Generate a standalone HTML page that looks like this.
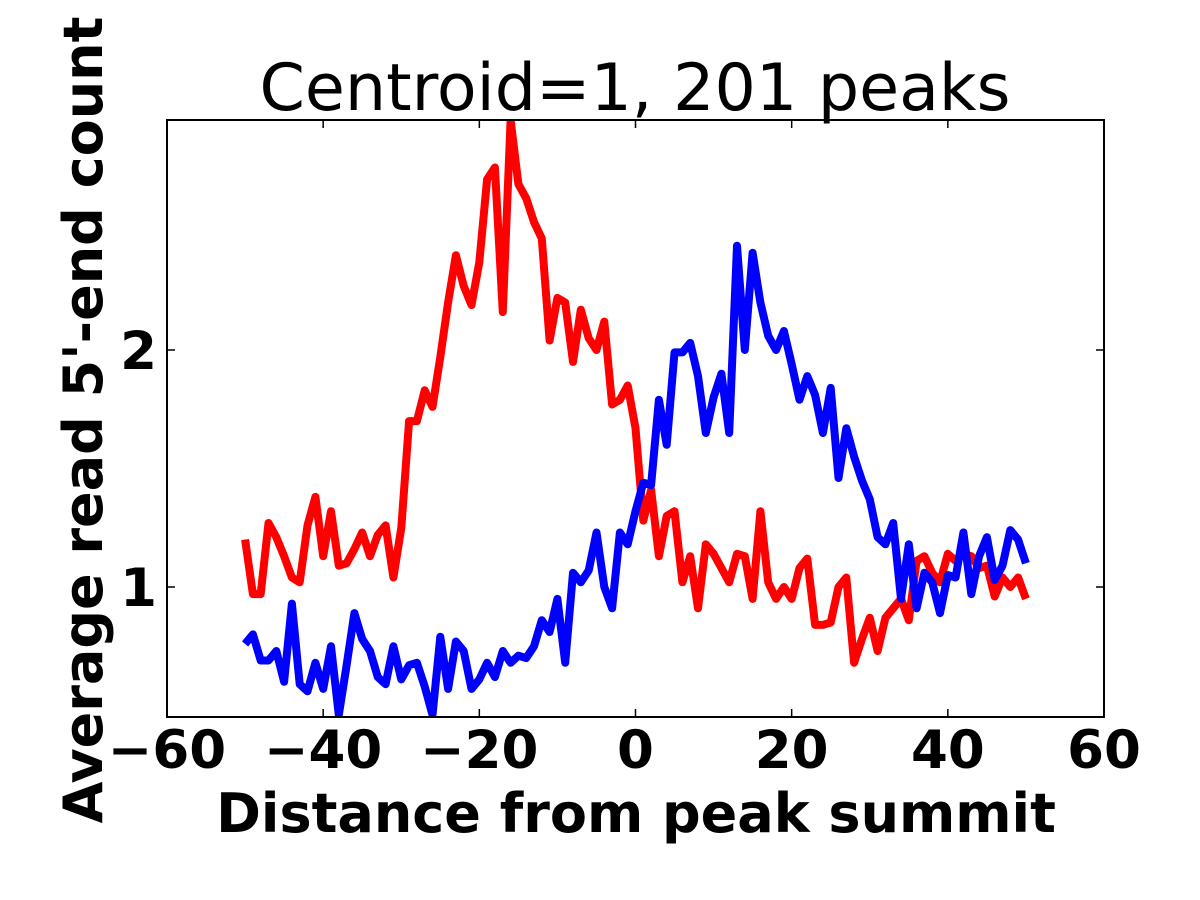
<!DOCTYPE html>
<html><head><meta charset="utf-8"><style>
html,body{margin:0;padding:0;background:#fff;}
svg{display:block;font-family:"DejaVu Sans","Liberation Sans",sans-serif;}
</style></head><body>
<svg id="chart" width="1200" height="900" viewBox="0 0 1200 900">
<defs><clipPath id="plotclip"><rect x="167" y="120" width="937" height="597"/></clipPath></defs>
<text x="635" y="110" font-size="65" text-anchor="middle">Centroid=1, 201 peaks</text>
<g id="series" clip-path="url(#plotclip)"></g>
<rect x="167" y="120" width="937" height="597" fill="none" stroke="#000" stroke-width="2"/>
<g id="ticks"></g>
<text x="636" y="832" font-size="54" font-weight="bold" text-anchor="middle">Distance from peak summit</text>
<text transform="translate(102,420) rotate(-90)" font-size="54" font-weight="bold" text-anchor="middle">Average read 5'-end count</text>
</svg>
<script>
const xValues = [];
for (let i = -50; i <= 50; i++) xValues.push(i);
const redValues = [1.20,0.97,0.97,1.27,1.21,1.13,1.04,1.02,1.26,1.38,1.13,1.32,1.09,1.10,1.16,1.23,1.13,1.22,1.26,1.04,1.25,1.70,1.70,1.83,1.76,1.97,2.20,2.40,2.27,2.19,2.37,2.72,2.77,2.16,2.97,2.70,2.64,2.54,2.47,2.04,2.22,2.20,1.95,2.17,2.05,2.00,2.12,1.77,1.79,1.85,1.67,1.28,1.41,1.13,1.30,1.32,1.02,1.13,0.91,1.18,1.14,1.08,1.02,1.14,1.13,0.95,1.32,1.02,0.95,1.00,0.95,1.08,1.12,0.84,0.84,0.85,1.00,1.04,0.68,0.78,0.87,0.73,0.87,0.91,0.95,0.86,1.11,1.13,1.06,1.02,1.14,1.11,1.14,1.13,1.08,1.09,0.96,1.04,1.00,1.04,0.95];
const blueValues = [0.76,0.80,0.69,0.69,0.73,0.60,0.93,0.59,0.56,0.68,0.57,0.75,0.46,0.67,0.89,0.78,0.73,0.62,0.59,0.75,0.61,0.67,0.68,0.58,0.46,0.79,0.57,0.77,0.73,0.57,0.61,0.68,0.62,0.73,0.68,0.71,0.70,0.75,0.86,0.81,0.95,0.68,1.06,1.02,1.07,1.23,1.00,0.91,1.23,1.18,1.32,1.44,1.43,1.79,1.60,1.99,1.99,2.03,1.89,1.65,1.80,1.90,1.65,2.44,2.00,2.41,2.20,2.06,2.00,2.08,1.94,1.79,1.89,1.81,1.65,1.84,1.46,1.67,1.55,1.45,1.37,1.21,1.18,1.27,0.95,1.18,0.91,1.06,1.02,0.89,1.05,1.04,1.23,0.97,1.13,1.21,1.03,1.09,1.24,1.20,1.10];
const xTicks = [-60,-40,-20,0,20,40,60];
const xTickLabels = ["\u221260","\u221240","\u221220","0","20","40","60"];
const yTicks = [1,2];
const yTickLabels = ["1","2"];

const NS = "http://www.w3.org/2000/svg";
const X0=167,X1=1104,Y0=717,Y1=120;
function xs(v){return X0+(v+60)/120*(X1-X0);}
function ys(v){return 587-(v-1)*237;}

const g = document.getElementById('series');
function line(vals,color,name){
  const p=document.createElementNS(NS,'polyline');
  p.setAttribute('points',vals.map((v,i)=>xs(xValues[i]).toFixed(1)+','+ys(v).toFixed(1)).join(' '));
  p.setAttribute('fill','none');p.setAttribute('stroke',color);p.setAttribute('stroke-width','8');
  p.setAttribute('stroke-linejoin','round');
  
  
  g.appendChild(p);
}
line(redValues,'#ff0000','red-series-line');
line(blueValues,'#0000ff','blue-series-line');

const t=document.getElementById('ticks');
function mk(tag,attrs){const e=document.createElementNS(NS,tag);for(const k in attrs)e.setAttribute(k,attrs[k]);t.appendChild(e);return e;}
xTicks.forEach((v,i)=>{
  const x=xs(v);
  const a=mk('line',{x1:x,x2:x,y1:Y0,y2:Y0-8,stroke:'#000','stroke-width':1.5});
  
  
  const b=mk('line',{x1:x,x2:x,y1:Y1,y2:Y1+8,stroke:'#000','stroke-width':1.5});
  
  
  const l=mk('text',{x:x,y:768,'font-size':53,'font-weight':'bold','text-anchor':'middle'});
  l.textContent=xTickLabels[i];
  
  
});
yTicks.forEach((v,i)=>{
  const y=ys(v);
  const a=mk('line',{x1:X0,x2:X0+8,y1:y,y2:y,stroke:'#000','stroke-width':1.5});
  
  
  const b=mk('line',{x1:X1,x2:X1-8,y1:y,y2:y,stroke:'#000','stroke-width':1.5});
  
  
  const l=mk('text',{x:157,y:y+19,'font-size':53,'font-weight':'bold','text-anchor':'end'});
  l.textContent=yTickLabels[i];
  
  
});
</script>
</body></html>
